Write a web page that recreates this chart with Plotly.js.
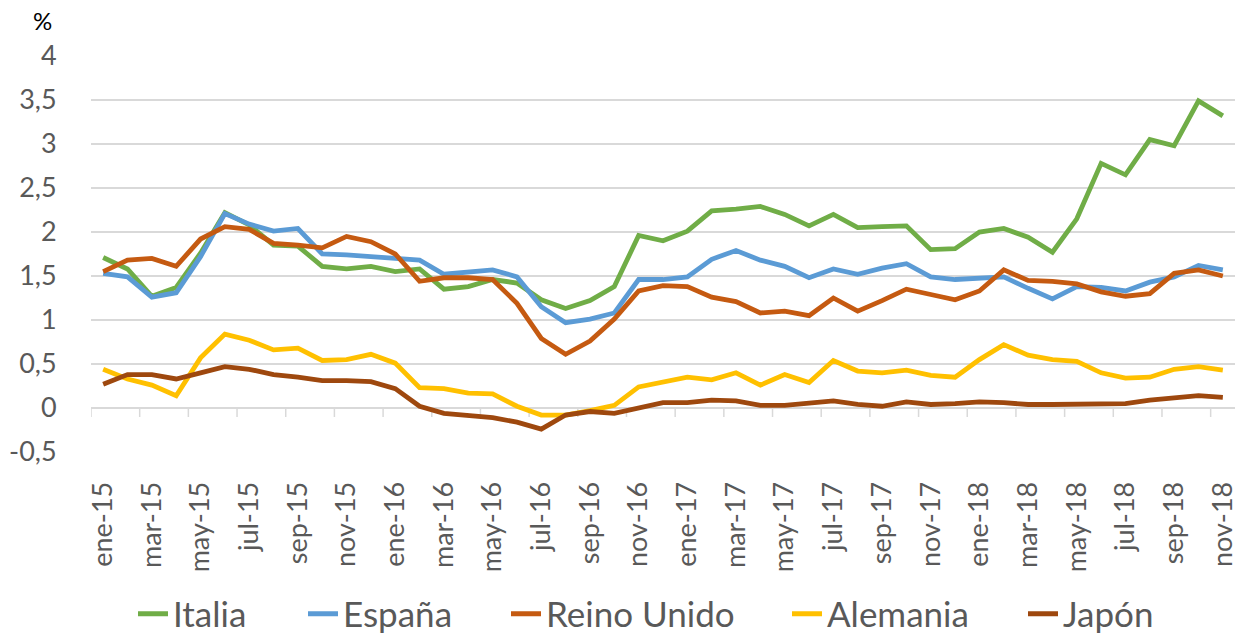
<!DOCTYPE html>
<html>
<head>
<meta charset="utf-8">
<script src="https://cdn.plot.ly/plotly-3.0.1.min.js"></script>
<style>
html,body{margin:0;padding:0;background:#fff;}
#chart{width:1238px;height:635px;}
</style>
</head>
<body>
<div id="chart"></div>
<script>
const months = ['ene-15','feb-15','mar-15','abr-15','may-15','jun-15','jul-15','ago-15','sep-15','oct-15','nov-15','dic-15',
  'ene-16','feb-16','mar-16','abr-16','may-16','jun-16','jul-16','ago-16','sep-16','oct-16','nov-16','dic-16',
  'ene-17','feb-17','mar-17','abr-17','may-17','jun-17','jul-17','ago-17','sep-17','oct-17','nov-17','dic-17',
  'ene-18','feb-18','mar-18','abr-18','may-18','jun-18','jul-18','ago-18','sep-18','oct-18','nov-18'];

const italia = [1.71,1.58,1.27,1.37,1.76,2.22,2.08,1.85,1.84,1.61,1.58,1.61,1.55,1.58,1.35,
  1.38,1.46,1.42,1.23,1.13,1.22,1.38,1.96,1.90,2.01,2.24,2.26,2.29,2.20,2.07,2.20,
  2.05,2.06,2.07,1.80,1.81,2.00,2.04,1.94,1.77,2.15,2.78,2.65,3.05,2.98,3.49,3.32];
const espana = [1.53,1.49,1.26,1.31,1.72,2.21,2.09,2.01,2.04,1.75,1.74,1.72,1.71,1.68,1.52,
  1.55,1.57,1.49,1.15,0.97,1.01,1.08,1.46,1.46,1.49,1.69,1.79,1.68,1.61,1.48,1.58,
  1.52,1.59,1.64,1.49,1.46,1.47,1.49,1.36,1.24,1.38,1.37,1.33,1.43,1.49,1.62,1.57];
const reinoUnido = [1.55,1.68,1.70,1.61,1.92,2.06,2.03,1.87,1.85,1.82,1.95,1.89,1.75,1.44,1.48,
  1.48,1.46,1.19,0.79,0.61,0.76,1.01,1.33,1.39,1.38,1.26,1.21,1.08,1.10,1.05,1.25,
  1.10,1.22,1.35,1.29,1.23,1.33,1.57,1.45,1.44,1.41,1.32,1.27,1.30,1.53,1.57,1.50];
const alemania = [0.44,0.33,0.26,0.14,0.57,0.84,0.77,0.66,0.68,0.54,0.55,0.61,0.51,0.23,0.22,
  0.17,0.16,0.02,-0.08,-0.08,-0.03,0.03,0.24,0.29,0.35,0.32,0.40,0.26,0.38,0.29,0.54,
  0.42,0.40,0.43,0.37,0.35,0.55,0.72,0.60,0.55,0.53,0.40,0.34,0.35,0.44,0.47,0.43];
const japon = [0.27,0.38,0.38,0.33,0.40,0.47,0.44,0.38,0.35,0.31,0.31,0.30,0.22,0.02,-0.06,
  -0.09,-0.11,-0.16,-0.24,-0.08,-0.04,-0.06,0.00,0.06,0.06,0.09,0.08,0.03,0.03,0.05,0.08,
  0.04,0.02,0.07,0.04,0.05,0.07,0.06,0.04,0.04,0.04,0.04,0.05,0.09,0.11,0.14,0.12];

const seriesNames = ['Italia','España','Reino Unido','Alemania','Japón'];
const seriesData = [italia, espana, reinoUnido, alemania, japon];
const seriesColors = ['#70AD47','#5B9BD5','#C55A11','#FFC000','#9E480E'];

const yTicks = [-0.5,0,0.5,1,1.5,2,2.5,3,3.5,4];
const yTickText = ['-0,5','0','0,5','1','1,5','2','2,5','3','3,5','4'];

const legendIds = ['legend','legend2','legend3','legend4','legend5'];
// left edge (px) of each legend entry along the bottom row
const legendLeftPx = [133, 303, 506, 787, 1023];

const traces = seriesNames.map((n,k)=>({
  type:'scatter', mode:'lines', name:n, x:months, y:seriesData[k], legend:legendIds[k],
  line:{color:seriesColors[k], width:4.8}, hoverinfo:'x+y+name'
}));

const labelTicks = months.filter((m,i)=>i%2===0);
// category boundaries every two months, where the horizontal axis (at 0) carries its tick marks
const boundaryTicks = months.map((m,i)=>i-0.5).filter((v,i)=>i%2===0);

const font = 'Lato, "Open Sans", sans-serif';
const yMin = -0.5, yMax = 4;
const W = 1238, H = 635;

const axisTickShapes = boundaryTicks.map(b=>({
  type:'line', xref:'x', yref:'y', x0:b, x1:b,
  ysizemode:'pixel', yanchor:0, y0:0, y1:-9,
  line:{color:'#D9D9D9', width:1.5}, layer:'below'
}));
axisTickShapes.push({
  type:'line', xref:'paper', yref:'y', x0:0, x1:1, y0:0, y1:0,
  line:{color:'#D9D9D9', width:1.5}, layer:'below'
});

const layout = {
  width:W, height:H,
  margin:{l:91, r:3, t:56, b:183},
  paper_bgcolor:'#fff', plot_bgcolor:'#fff',
  showlegend:true,
  font:{family:font, color:'#595959'},
  xaxis:{
    type:'category', range:[-0.5, months.length-0.5],
    tickmode:'array', tickvals:labelTicks, ticktext:labelTicks,
    tickangle:-90, tickfont:{size:27, color:'#595959', family:font},
    ticks:'outside', ticklen:18, tickcolor:'rgba(0,0,0,0)',
    showgrid:false, showline:false, zeroline:false, fixedrange:true, automargin:false
  },
  yaxis:{
    range:[yMin, yMax], tickmode:'array', tickvals:yTicks, ticktext:yTickText,
    tickfont:{size:27, color:'#595959', family:font},
    ticks:'outside', ticklen:28, tickcolor:'rgba(0,0,0,0)',
    showgrid:true, gridcolor:'#D9D9D9', gridwidth:1.5,
    zeroline:false, showline:false, fixedrange:true, automargin:false
  },
  shapes:axisTickShapes,
  annotations:[{
    text:'%', xref:'paper', yref:'paper', x:(42-91)/1144, y:1+(56-21)/396,
    xanchor:'center', yanchor:'middle', showarrow:false,
    font:{size:24, color:'#000000', family:font}
  }]
};
legendIds.forEach((id,k)=>{
  layout[id] = {
    orientation:'h', xref:'container', yref:'container',
    x:legendLeftPx[k]/W, xanchor:'left', y:1-614/H, yanchor:'middle',
    font:{size:35, color:'#595959', family:font}, bgcolor:'rgba(0,0,0,0)'
  };
});

Plotly.newPlot('chart', traces, layout, {displayModeBar:false});
</script>
</body>
</html>
